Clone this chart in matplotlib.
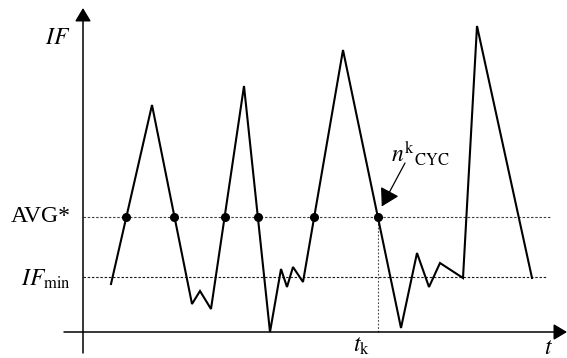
import numpy as np
import matplotlib
matplotlib.use("Agg")
import matplotlib.pyplot as plt

plt.rcParams.update({"font.family": "Liberation Serif", "mathtext.fontset": "stix",
                     "font.size": 17})

# schematic IF(t) trace (arbitrary units)
t = [2.8, 6.9, 10.9, 11.7, 12.8, 16.1, 18.7, 19.8, 20.4, 21.0, 22.0, 26.0,
     31.8, 33.4, 34.6, 35.7, 38.0, 39.4, 44.9]
IF = [4.8, 22.7, 2.8, 4.1, 2.3, 24.6, 0.0, 6.3, 4.5, 6.5, 5.0, 28.2,
      0.4, 7.9, 4.5, 6.9, 5.4, 30.6, 5.4]
avg_level = 11.55
ifmin_level = 5.5
n_marked = 6  # crossings of AVG* marked with dots

t = np.array(t); IF = np.array(IF)
# crossings of the AVG* level
cross = []
for i in range(len(t) - 1):
    a, b = IF[i] - avg_level, IF[i + 1] - avg_level
    if a * b < 0:
        cross.append(t[i] + (t[i + 1] - t[i]) * a / (a - b))
cross = np.array(cross[:n_marked])
t_k = cross[-1]

fig = plt.figure(figsize=(5.67, 3.58), dpi=100)
ax = fig.add_axes([0, 0, 1, 1])
ax.set_xlim(-8.3, 48.4)
ax.set_ylim(-2.6, 33.2)
ax.axis("off")

# axes with arrows
ax.annotate("", xy=(0, 32.4), xytext=(0, -2.1),
            arrowprops=dict(arrowstyle="-|>,head_length=0.45,head_width=0.27",
                            lw=1.1, color="black", mutation_scale=18, shrinkA=0, shrinkB=0))
ax.annotate("", xy=(48.4, 0), xytext=(-1.9, 0),
            arrowprops=dict(arrowstyle="-|>,head_length=0.45,head_width=0.27",
                            lw=1.1, color="black", mutation_scale=18, shrinkA=0, shrinkB=0))

dash = (0, (2.2, 1.6))
ax.plot([0, 46.7], [avg_level, avg_level], color="0.25", lw=0.8, ls=dash)
ax.plot([0, 46.4], [ifmin_level, ifmin_level], color="0.1", lw=0.8, ls=dash)
ax.plot([t_k, t_k], [0, avg_level], color="0.3", lw=0.8, ls=(0, (1.6, 1.6)))

ax.plot(t, IF, color="black", lw=1.5, solid_joinstyle="miter")
ax.plot(cross, np.full_like(cross, avg_level), "o", color="black", ms=5.5)

# labels
ax.text(-1.3, 29.4, "$IF$", ha="right", va="center")
ax.text(-1.2, avg_level, "AVG*", ha="right", va="center")
ax.text(-1.2, ifmin_level - 0.2, r"$IF_{\mathrm{min}}$", ha="right", va="center")
ax.text(t_k - 1.6, -1.4, r"$t_{\mathrm{k}}$", ha="center", va="center")
ax.text(46.6, -1.6, "$t$", ha="center", va="center")
ax.text(30.8, 17.8, r"$n^{\mathrm{k}}{}_{\mathrm{CYC}}$", ha="left", va="center")
ax.annotate("", xy=(t_k + 0.4, avg_level + 1.0), xytext=(32.2, 16.9),
            arrowprops=dict(arrowstyle="-|>,head_length=0.6,head_width=0.35",
                            lw=0.9, color="black", mutation_scale=18, shrinkA=0, shrinkB=0))

fig.savefig("out.png", dpi=100)
